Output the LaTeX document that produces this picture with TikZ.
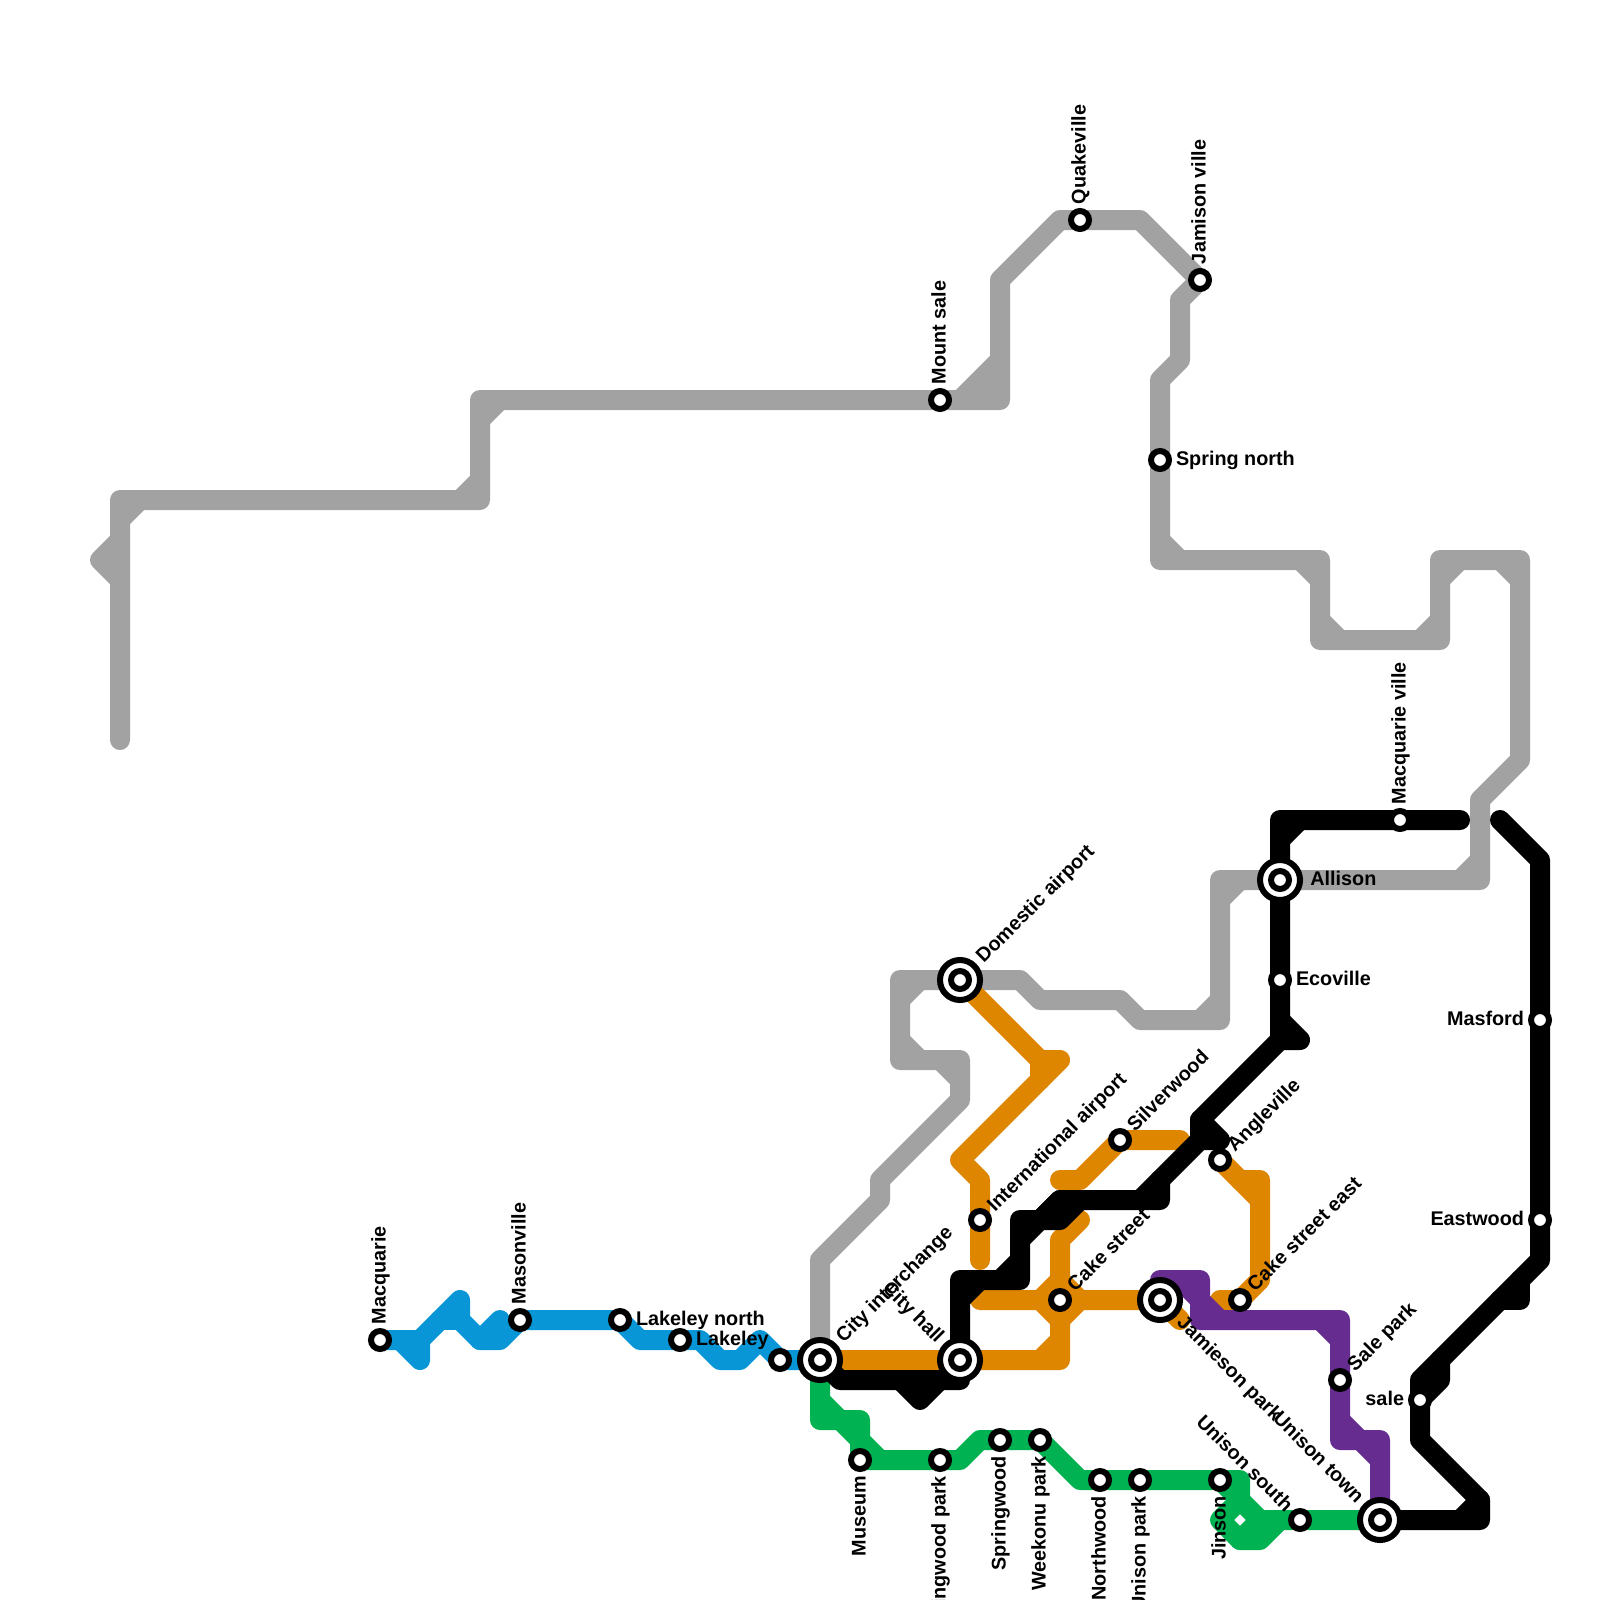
\documentclass[tikz,border=0pt]{standalone}
\usepackage{fontspec}
\setmainfont{Liberation Sans}
\usetikzlibrary{backgrounds}
\definecolor{mapgrey}{HTML}{A2A2A2}
\definecolor{mapblue}{HTML}{0896D7}
\definecolor{mapgreen}{HTML}{00B251}
\definecolor{maporange}{HTML}{DF8600}
\definecolor{mappurple}{HTML}{662C90}

\begin{document}
\begin{tikzpicture}[
  x=0.5pt, y=-0.5pt,
  stn/.style={circle, draw=black, fill=white, line width=3pt, inner sep=0pt, outer sep=0pt, minimum size=9pt},
  hub/.style={circle, draw=black, fill=white, line width=3pt, inner sep=0pt, outer sep=0pt, minimum size=20pt},
  route/.style={line width=10pt, line cap=round, line join=round},
  lbl/.style={font=\bfseries\fontsize{9.9}{11}\selectfont, inner xsep=7.8pt, inner ysep=0pt,
              text height=7pt, text depth=1.5pt},
  upl/.style={lbl, rotate=90, anchor=west},
  dnl/.style={lbl, rotate=90, anchor=east},
  nel/.style={lbl, rotate=45, anchor=west},
  sel/.style={lbl, rotate=-45, anchor=west},
  nwl/.style={lbl, rotate=-45, anchor=east},
  rtl/.style={lbl, anchor=west},
  ltl/.style={lbl, anchor=east},
  far/.style={inner xsep=14pt}
]
  \useasboundingbox (0,0) rectangle (1600,1600);

  % stations
  \node[stn] (macquarie) at (380,1340) {};
  \node[stn] (masonville) at (520,1320) {};
  \node[stn] (lakeleyn) at (620,1320) {};
  \node[stn] (lakeley) at (680,1340) {};
  \node[stn] (nameless) at (780,1360) {};
  \node[hub] (cityint) at (820,1360) {};
  \node[stn] (cityintc) at (cityint) {};
  \node[hub] (cityhall) at (960,1360) {};
  \node[stn] (cityhallc) at (cityhall) {};
  \node[hub] (domestic) at (960,980) {};
  \node[stn] (domesticc) at (domestic) {};
  \node[stn] (intl) at (980,1220) {};
  \node[stn] (silverwood) at (1120,1140) {};
  \node[stn] (angleville) at (1220,1160) {};
  \node[stn] (cake) at (1060,1300) {};
  \node[hub] (jamieson) at (1160,1300) {};
  \node[stn] (jamiesonc) at (jamieson) {};
  \node[stn] (cakeeast) at (1240,1300) {};
  \node[stn] (salepark) at (1340,1380) {};
  \node[hub] (unitown) at (1380,1520) {};
  \node[stn] (unitownc) at (unitown) {};
  \node[stn] (unisouth) at (1300,1520) {};
  \node[stn] (jinson) at (1220,1480) {};
  \node[stn] (unipark) at (1140,1480) {};
  \node[stn] (northwood) at (1100,1480) {};
  \node[stn] (weekonu) at (1040,1440) {};
  \node[stn] (springwood) at (1000,1440) {};
  \node[stn] (springpark) at (940,1460) {};
  \node[stn] (museum) at (860,1460) {};
  \node[stn] (mountsale) at (940,400) {};
  \node[stn] (quake) at (1080,220) {};
  \node[stn] (jamison) at (1200,280) {};
  \node[stn] (springn) at (1160,460) {};
  \node[hub] (allison) at (1280,880) {};
  \node[stn] (allisonc) at (allison) {};
  \node[stn] (ecoville) at (1280,980) {};
  \node[stn] (macqville) at (1400,820) {};
  \node[stn] (masford) at (1540,1020) {};
  \node[stn] (eastwood) at (1540,1220) {};
  \node[stn] (sale) at (1420,1400) {};

  % labels
  \node[upl] (macquariel) at (macquarie) {Macquarie};
  \node[upl] (masonvillel) at (masonville) {Masonville};
  \node[rtl] (lakeleynl) at (lakeleyn) {Lakeley north};
  \node[rtl] (lakeleyl) at (lakeley) {Lakeley};
  \node[nel, far] (cityintl) at (cityint) {City interchange};
  \node[nwl, far] (cityhalll) at (cityhall) {City hall};
  \node[nel, far] (domesticl) at (domestic) {Domestic airport};
  \node[nel] (intll) at (intl) {International airport};
  \node[nel] (silverwoodl) at (silverwood) {Silverwood};
  \node[nel] (anglevillel) at (angleville) {Angleville};
  \node[nel] (cakel) at (cake) {Cake street};
  \node[sel, far] (jamiesonl) at (jamieson) {Jamieson park};
  \node[nel] (cakeeastl) at (cakeeast) {Cake street east};
  \node[nel] (saleparkl) at (salepark) {Sale park};
  \node[nwl, far] (unitownl) at (unitown) {Unison town};
  \node[nwl] (unisouthl) at (unisouth) {Unison south};
  \node[dnl] (jinsonl) at (jinson) {Jinson};
  \node[dnl] (uniparkl) at (unipark) {Unison park};
  \node[dnl] (northwoodl) at (northwood) {Northwood};
  \node[dnl] (weekonul) at (weekonu) {Weekonu park};
  \node[dnl] (springwoodl) at (springwood) {Springwood};
  \node[dnl] (springparkl) at (springpark) {Springwood park};
  \node[dnl] (museuml) at (museum) {Museum};
  \node[upl] (mountsalel) at (mountsale) {Mount sale};
  \node[upl] (quakel) at (quake) {Quakeville};
  \node[upl] (jamisonl) at (jamison) {Jamison ville};
  \node[rtl] (springnl) at (springn) {Spring north};
  \node[rtl, inner xsep=15pt] (allisonl) at (allison) {Allison};
  \node[rtl] (ecovillel) at (ecoville) {Ecoville};
  \node[upl] (macqvillel) at (macqville) {Macquarie ville};
  \node[ltl] (masfordl) at (masford) {Masford};
  \node[ltl] (eastwoodl) at (eastwood) {Eastwood};
  \node[ltl] (salel) at (sale) {sale};

  \begin{scope}[on background layer]
    % grey line
    \draw[route, mapgrey] (120,740) -- (120,500) -- (480,500) -- (480,400) -- (mountsale.center)
      -- (1000,400) -- (1000,280) -- (1060,220) -- (quake.center) -- (1140,220) -- (jamison.center)
      -- (1180,300) -- (1180,360) -- (1160,380) -- (springn.center) -- (1160,560) -- (1320,560)
      -- (1320,640) -- (1440,640) -- (1440,560) -- (1520,560) -- (1520,760) -- (1480,800)
      -- (1480,880) -- (allison.center) -- (1220,880) -- (1220,1020) -- (1140,1020) -- (1120,1000)
      -- (1040,1000) -- (1020,980) -- (domestic.center) -- (900,980) -- (900,1060) -- (960,1060)
      -- (960,1100) -- (880,1180) -- (880,1200) -- (820,1260) -- (cityint.center);
    \draw[route, mapgrey] (120,540) -- (100,560) -- (120,580);
    \draw[route, mapgrey] (120,520) -- (140,500);
    \draw[route, mapgrey] (460,500) -- (480,480);
    \draw[route, mapgrey] (480,420) -- (500,400);
    \draw[route, mapgrey] (960,400) -- (1000,360);
    \draw[route, mapgrey] (980,400) -- (1000,380);
    \draw[route, mapgrey] (1160,540) -- (1180,560);
    \draw[route, mapgrey] (1300,560) -- (1320,580);
    \draw[route, mapgrey] (1320,620) -- (1340,640);
    \draw[route, mapgrey] (1420,640) -- (1440,620);
    \draw[route, mapgrey] (1440,580) -- (1460,560);
    \draw[route, mapgrey] (1500,560) -- (1520,580);
    \draw[route, mapgrey] (1460,880) -- (1480,860);
    \draw[route, mapgrey] (1220,900) -- (1240,880);
    \draw[route, mapgrey] (1200,1020) -- (1220,1000);
    \draw[route, mapgrey] (900,1000) -- (920,980);
    \draw[route, mapgrey] (900,1040) -- (920,1060);
    \draw[route, mapgrey] (940,1060) -- (960,1080);

    % blue line
    \draw[route, mapblue] (macquarie.center) -- (420,1340) -- (460,1300) -- (460,1320) -- (480,1340)
      -- (500,1340) -- (masonville.center) -- (lakeleyn.center) -- (640,1340) -- (lakeley.center)
      -- (700,1340) -- (720,1360) -- (740,1360) -- (760,1340) -- (nameless.center) -- (cityint.center);
    \draw[route, mapblue] (400,1340) -- (420,1360) -- (420,1340);
    \draw[route, mapblue] (440,1320) -- (460,1320);
    \draw[route, mapblue] (480,1340) -- (500,1320);

    % green line
    \draw[route, mapgreen] (cityint.center) -- (820,1420) -- (840,1420) -- (860,1440) -- (museum.center)
      -- (springpark.center) -- (960,1460) -- (980,1440) -- (springwood.center) -- (weekonu.center)
      -- (1080,1480) -- (northwood.center) -- (unipark.center) -- (jinson.center) -- (1240,1480)
      -- (1240,1500) -- (1260,1520) -- (unisouth.center) -- (unitown.center);
    \draw[route, mapgreen] (820,1400) -- (840,1420) -- (860,1420) -- (860,1440) -- (880,1460);
    \draw[route, mapgreen] (jinson.center) -- (1240,1500) -- (1220,1520) -- (1240,1540) -- (1260,1540) -- (1280,1520);
    \draw[route, mapgreen] (1240,1540) -- (1260,1520);

    % orange line
    \draw[route, maporange] (cityint.center) -- (cityhall.center) -- (1040,1360) -- (1060,1340);
    \draw[route, maporange] (1040,1360) -- (1060,1360) -- (1060,1240) -- (1080,1220);
    \draw[route, maporange] (980,1300) -- (1040,1300) -- (1060,1320) -- (1080,1300) -- (1060,1280) -- (1040,1300);
    \draw[route, maporange] (1080,1300) -- (jamieson.center) -- (1180,1320);
    \draw[route, maporange] (1220,1320) -- (1220,1300) -- (cakeeast.center) -- (1260,1280) -- (1260,1180)
      -- (1240,1180);
    \draw[route, maporange] (angleville.center) -- (1260,1200);
    \draw[route, maporange] (1060,1180) -- (1080,1180) -- (silverwood.center) -- (1180,1140);
    \draw[route, maporange] (domestic.center) -- (1040,1060) -- (1060,1060) -- (960,1160) -- (980,1180)
      -- (intl.center) -- (980,1260);
    \draw[route, maporange] (1040,1060) -- (1040,1080);

    % purple line
    \draw[route, mappurple] (jamieson.center) -- (1160,1280) -- (1200,1280) -- (1200,1320) -- (1340,1320)
      -- (salepark.center) -- (1340,1440) -- (1360,1440) -- (1380,1460) -- (unitown.center);
    \draw[route, mappurple] (1200,1300) -- (1220,1320);
    \draw[route, mappurple] (1180,1280) -- (1200,1300);
    \draw[route, mappurple] (1320,1320) -- (1340,1340);
    \draw[route, mappurple] (1340,1420) -- (1360,1440) -- (1380,1440) -- (1380,1460);

    % black line
    \draw[route, black] (1460,820) -- (macqville.center) -- (1280,820) -- (allison.center) -- (ecoville.center)
      -- (1280,1040) -- (1200,1120) -- (1200,1140) -- (1160,1180) -- (1160,1200) -- (1060,1200)
      -- (1040,1220) -- (1020,1220) -- (1020,1280) -- (960,1280) -- (cityhall.center) -- (960,1380)
      -- (840,1380) -- (cityint.center);
    \draw[route, black] (1280,840) -- (1300,820);
    \draw[route, black] (1280,1020) -- (1300,1040) -- (1280,1040);
    \draw[route, black] (1200,1120) -- (1220,1140) -- (1200,1140);
    \draw[route, black] (1160,1180) -- (1140,1200);
    \draw[route, black] (1060,1200) -- (1040,1220) -- (1060,1220) -- (1080,1200);
    \draw[route, black] (1020,1240) -- (1040,1220);
    \draw[route, black] (1000,1280) -- (1020,1260);
    \draw[route, black] (960,1300) -- (980,1280);
    \draw[route, black] (900,1380) -- (920,1400) -- (940,1380);
    \draw[route, black] (unitown.center) -- (1480,1520) -- (1480,1500) -- (1420,1440) -- (sale.center)
      -- (1420,1380) -- (1540,1260) -- (eastwood.center) -- (masford.center) -- (1540,860) -- (1500,820);
    \draw[route, black] (1460,1520) -- (1480,1500);
    \draw[route, black] (1440,1360) -- (1440,1380) -- (1420,1400);
    \draw[route, black] (1520,1280) -- (1520,1300) -- (1500,1300);
  \end{scope}
\end{tikzpicture}
\end{document}
